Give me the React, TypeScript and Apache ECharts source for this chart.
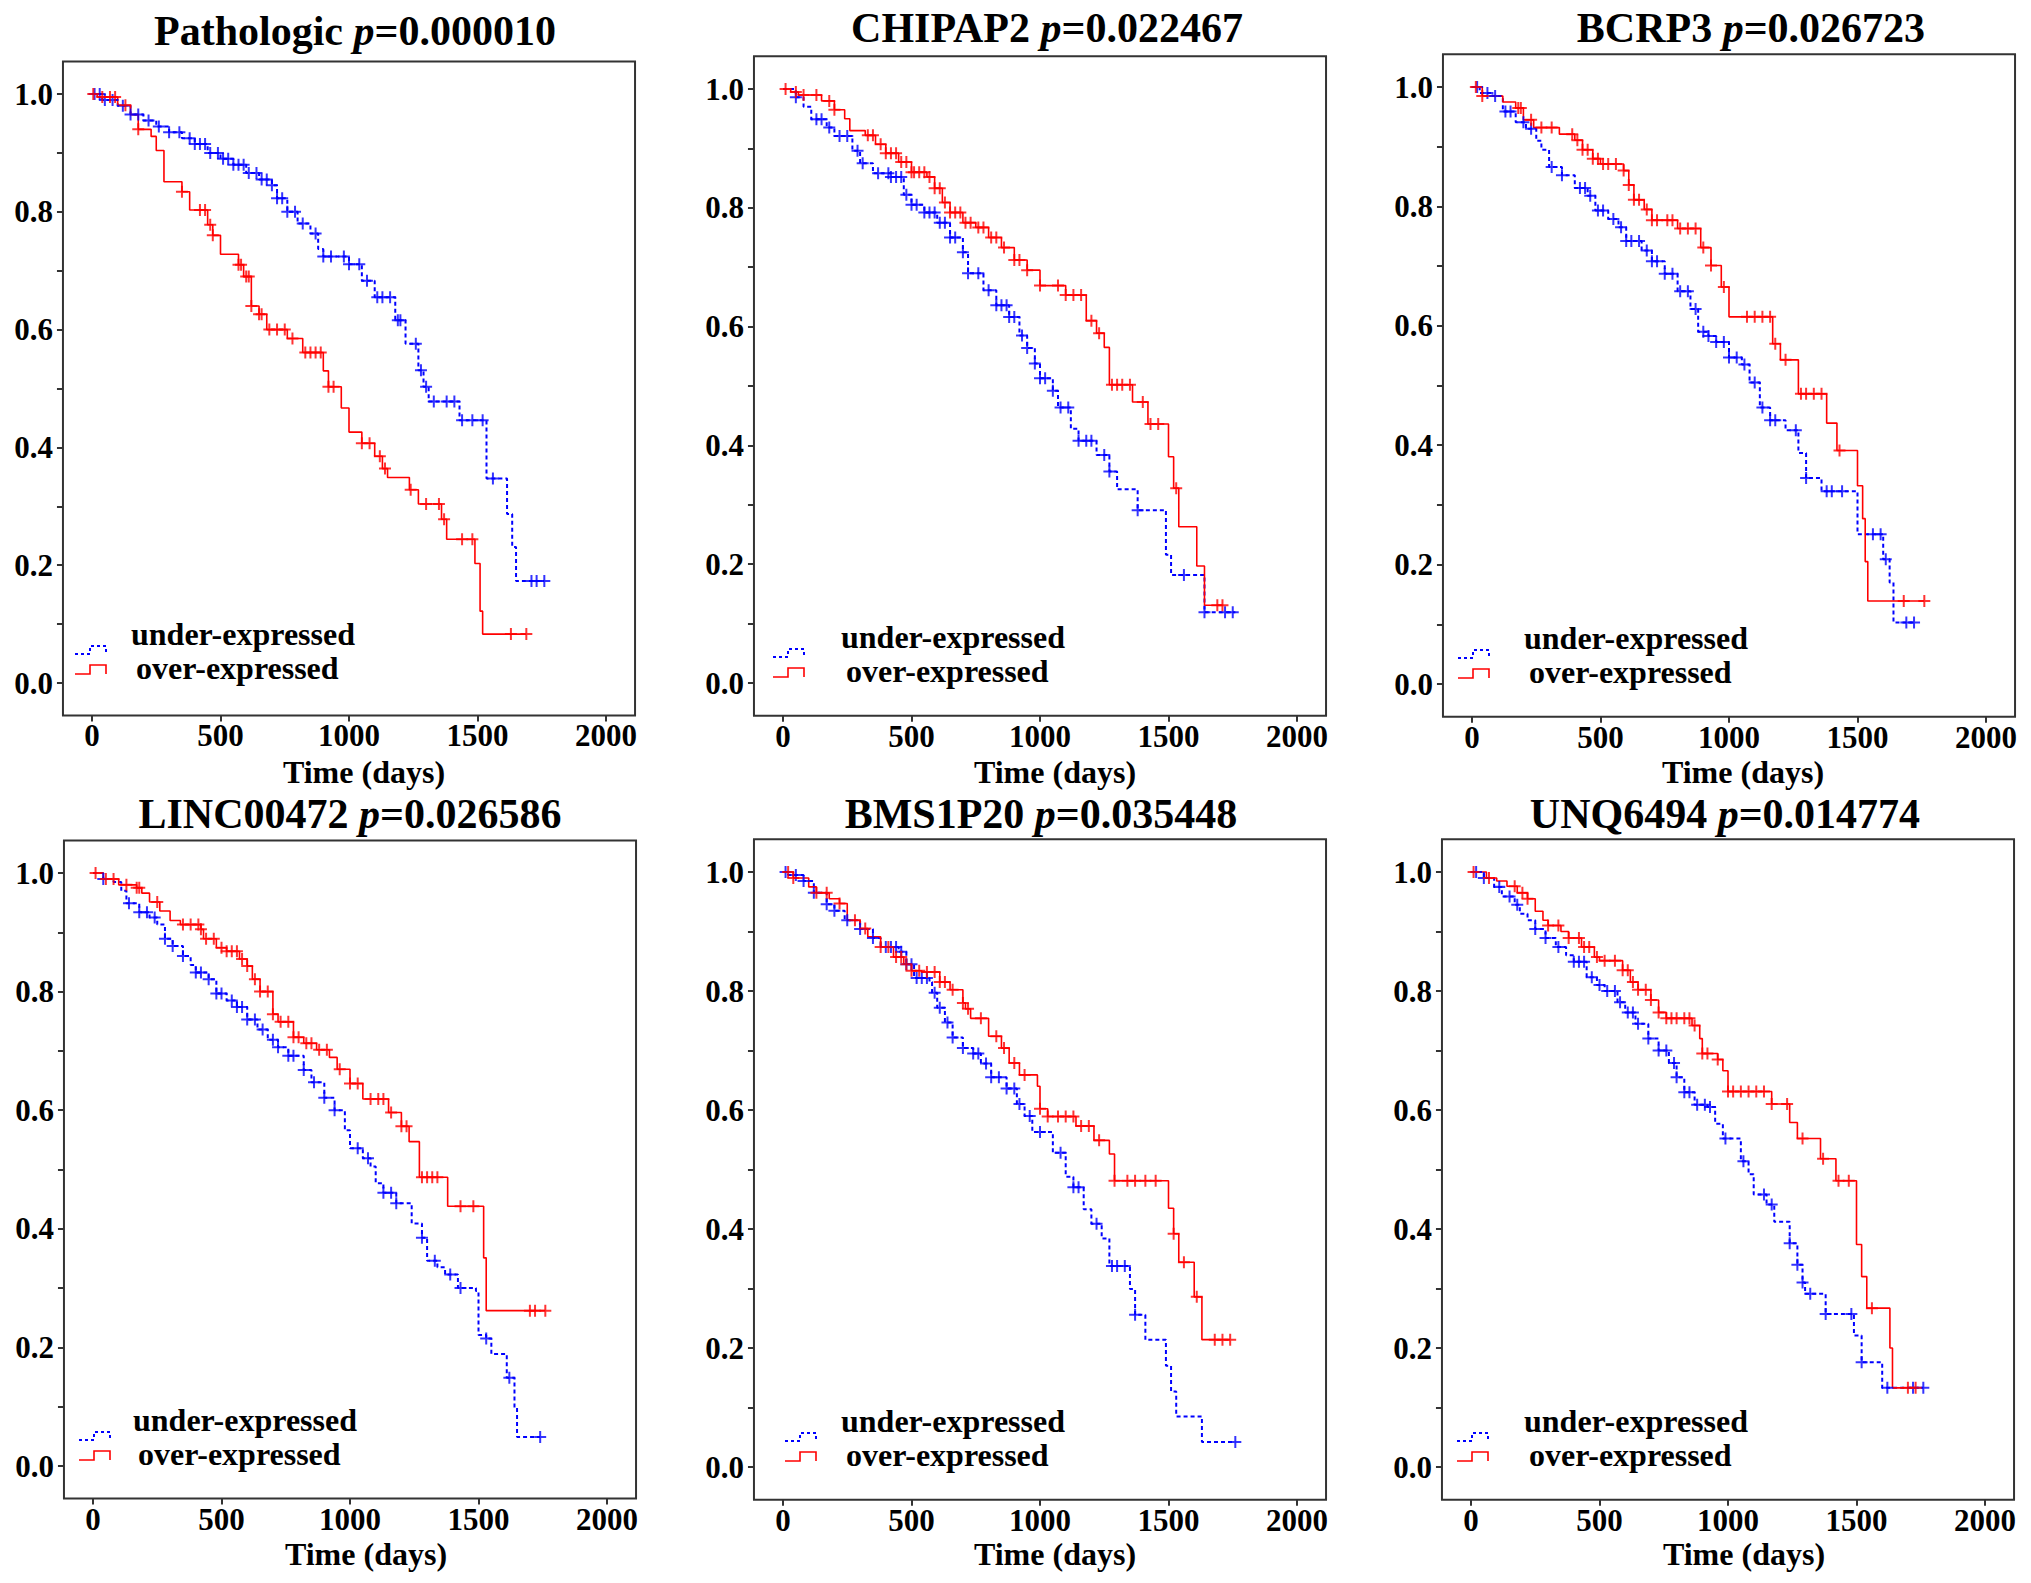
import React, { useEffect, useRef } from "react";
import * as echarts from "echarts";

const W = 2031;
const H = 1583;

// ---------------- data ----------------
const titleNames = ["Pathologic", "CHIPAP2", "BCRP3", "LINC00472", "BMS1P20", "UNQ6494"];
const pValues = ["0.000010", "0.022467", "0.026723", "0.026586", "0.035448", "0.014774"];
const legendNames = ["under-expressed", "over-expressed"];
const xTicks = [0, 500, 1000, 1500, 2000];
const yTicks = [0, 0.1, 0.2, 0.3, 0.4, 0.5, 0.6, 0.7, 0.8, 0.9, 1.0];
const yLabels = [0, 0.2, 0.4, 0.6, 0.8, 1.0];

// Kaplan-Meier step points [time, survival]
const pathUnder = [[0,1],[40,0.99],[100,0.98],[150,0.965],[200,0.955],[250,0.945],[300,0.935],[350,0.925],[400,0.915],[450,0.9],[500,0.89],[550,0.88],[600,0.866],[650,0.855],[700,0.845],[720,0.823],[760,0.8],[800,0.78],[850,0.763],[880,0.737],[900,0.724],[1000,0.711],[1050,0.683],[1100,0.655],[1180,0.616],[1220,0.576],[1270,0.531],[1290,0.503],[1310,0.478],[1430,0.446],[1535,0.347],[1615,0.287],[1635,0.231],[1650,0.173],[1760,0.173]];
const pathOver = [[0,1],[20,0.995],[100,0.981],[150,0.965],[180,0.94],[230,0.928],[250,0.904],[280,0.851],[350,0.834],[380,0.803],[450,0.778],[470,0.76],[500,0.728],[570,0.71],[590,0.69],[620,0.64],[650,0.626],[680,0.6],[760,0.585],[820,0.561],[900,0.53],[920,0.503],[970,0.467],[1000,0.426],[1050,0.407],[1100,0.385],[1130,0.364],[1150,0.349],[1235,0.328],[1270,0.304],[1360,0.278],[1380,0.244],[1490,0.203],[1510,0.122],[1520,0.083],[1690,0.083]];
const chipUnder = [[0,1],[50,0.986],[80,0.97],[110,0.949],[170,0.935],[200,0.921],[270,0.896],[300,0.875],[350,0.858],[420,0.852],[470,0.822],[500,0.805],[550,0.792],[600,0.775],[650,0.75],[700,0.725],[720,0.69],[780,0.661],[830,0.636],[880,0.616],[920,0.585],[950,0.564],[980,0.538],[1000,0.513],[1050,0.492],[1070,0.464],[1120,0.428],[1150,0.408],[1220,0.384],[1270,0.356],[1300,0.326],[1380,0.291],[1490,0.216],[1510,0.182],[1640,0.119],[1760,0.119]];
const chipOver = [[0,1],[30,0.995],[60,0.99],[150,0.98],[200,0.965],[240,0.95],[260,0.93],[320,0.922],[360,0.907],[400,0.892],[450,0.877],[500,0.86],[560,0.852],[590,0.833],[620,0.809],[650,0.792],[700,0.775],[750,0.767],[800,0.75],[850,0.733],[900,0.712],[950,0.695],[1000,0.669],[1100,0.653],[1180,0.61],[1220,0.589],[1250,0.565],[1270,0.502],[1360,0.473],[1420,0.436],[1500,0.381],[1520,0.328],[1540,0.263],[1610,0.197],[1640,0.131],[1710,0.131]];
const bcrpUnder = [[0,1],[30,0.99],[80,0.985],[120,0.959],[170,0.941],[210,0.93],[250,0.91],[270,0.895],[300,0.866],[350,0.852],[400,0.831],[450,0.818],[480,0.793],[530,0.779],[570,0.765],[600,0.742],[660,0.726],[700,0.708],[750,0.687],[800,0.658],[850,0.628],[880,0.59],[920,0.583],[950,0.573],[1000,0.547],[1050,0.535],[1080,0.505],[1120,0.463],[1160,0.442],[1220,0.425],[1270,0.387],[1300,0.345],[1360,0.323],[1500,0.251],[1600,0.209],[1625,0.17],[1640,0.103],[1720,0.103]];
const bcrpOver = [[0,1],[40,0.985],[120,0.975],[170,0.965],[200,0.945],[240,0.932],[340,0.921],[400,0.911],[430,0.895],[470,0.88],[500,0.871],[590,0.86],[610,0.836],[630,0.811],[670,0.795],[700,0.777],[800,0.763],[890,0.731],[930,0.701],[970,0.665],[1000,0.615],[1170,0.57],[1200,0.543],[1270,0.486],[1380,0.437],[1420,0.391],[1500,0.332],[1520,0.277],[1530,0.205],[1540,0.139],[1760,0.139]];
const lincUnder = [[0,1],[40,0.99],[80,0.985],[110,0.97],[130,0.949],[180,0.934],[220,0.925],[250,0.913],[280,0.889],[310,0.877],[350,0.86],[380,0.845],[400,0.832],[450,0.821],[480,0.797],[520,0.785],[560,0.774],[600,0.753],[640,0.736],[680,0.719],[720,0.706],[760,0.692],[820,0.668],[850,0.647],[900,0.621],[940,0.6],[980,0.566],[1000,0.536],[1050,0.519],[1080,0.505],[1100,0.477],[1130,0.461],[1180,0.443],[1240,0.409],[1280,0.385],[1300,0.346],[1340,0.335],[1370,0.323],[1420,0.3],[1490,0.295],[1500,0.221],[1530,0.215],[1550,0.189],[1610,0.149],[1640,0.098],[1650,0.049],[1740,0.049]];
const lincOver = [[0,1],[40,0.99],[100,0.98],[170,0.975],[190,0.966],[220,0.951],[260,0.936],[300,0.92],[340,0.913],[420,0.905],[430,0.889],[480,0.874],[520,0.868],[570,0.855],[600,0.843],[620,0.821],[650,0.8],[700,0.762],[720,0.749],[780,0.723],[820,0.713],[870,0.702],[920,0.689],[950,0.669],[1000,0.645],[1050,0.619],[1150,0.596],[1200,0.573],[1230,0.547],[1270,0.487],[1380,0.438],[1520,0.351],[1530,0.262],[1760,0.262]];
const bmsUnder = [[0,1],[20,0.995],[80,0.985],[120,0.965],[170,0.946],[200,0.935],[240,0.919],[300,0.904],[350,0.889],[380,0.874],[450,0.866],[480,0.845],[510,0.822],[570,0.815],[580,0.797],[600,0.772],[630,0.747],[660,0.722],[700,0.704],[740,0.695],[770,0.678],[810,0.655],[870,0.636],[910,0.61],[940,0.59],[970,0.563],[1050,0.528],[1100,0.488],[1130,0.47],[1170,0.433],[1200,0.409],[1240,0.384],[1270,0.338],[1350,0.299],[1370,0.256],[1410,0.214],[1490,0.17],[1510,0.127],[1530,0.085],[1630,0.042],[1760,0.042]];
const bmsOver = [[0,1],[40,0.99],[100,0.975],[130,0.965],[180,0.955],[220,0.947],[250,0.919],[300,0.905],[330,0.891],[380,0.874],[430,0.857],[470,0.845],[500,0.834],[540,0.832],[610,0.815],[650,0.802],[700,0.78],[710,0.77],[730,0.754],[800,0.724],[850,0.704],[880,0.679],[920,0.659],[990,0.64],[1000,0.602],[1030,0.589],[1140,0.573],[1210,0.549],[1270,0.526],[1290,0.481],[1500,0.435],[1520,0.392],[1540,0.344],[1600,0.286],[1630,0.214],[1740,0.214]];
const unqUnder = [[0,1],[50,0.99],[90,0.975],[120,0.959],[170,0.945],[190,0.93],[220,0.919],[250,0.904],[290,0.889],[330,0.874],[370,0.86],[400,0.849],[450,0.823],[490,0.81],[520,0.8],[570,0.781],[600,0.764],[640,0.745],[690,0.72],[730,0.7],[770,0.679],[800,0.655],[830,0.63],[870,0.609],[920,0.605],[950,0.577],[980,0.552],[1050,0.514],[1080,0.492],[1100,0.458],[1150,0.441],[1180,0.412],[1240,0.376],[1270,0.34],[1290,0.31],[1300,0.291],[1380,0.257],[1490,0.221],[1520,0.176],[1600,0.133],[1760,0.133]];
const unqOver = [[0,1],[60,0.99],[100,0.985],[140,0.976],[180,0.965],[220,0.955],[250,0.934],[280,0.919],[300,0.91],[350,0.9],[380,0.889],[430,0.874],[480,0.857],[500,0.851],[590,0.835],[620,0.815],[650,0.802],[700,0.785],[730,0.764],[760,0.754],[860,0.742],[890,0.72],[900,0.695],[960,0.685],[980,0.666],[1000,0.631],[1170,0.61],[1240,0.579],[1270,0.552],[1360,0.518],[1420,0.481],[1500,0.374],[1520,0.32],[1540,0.267],[1630,0.2],[1640,0.133],[1730,0.133]];

// censoring times
const pathUnderCens = [10,30,50,80,120,150,180,220,260,300,340,380,400,420,440,460,490,510,530,550,570,590,610,640,660,680,700,720,740,760,790,820,870,900,930,980,1000,1040,1070,1110,1130,1160,1190,1200,1260,1280,1300,1330,1380,1410,1440,1480,1520,1560,1710,1730,1760];
const pathOverCens = [5,40,70,90,130,180,350,420,440,460,470,570,580,600,610,620,650,660,690,720,750,780,830,850,870,890,920,940,1050,1080,1120,1140,1240,1300,1350,1370,1440,1480,1630,1690];
const chipUnderCens = [50,130,150,180,220,250,290,310,370,410,420,440,460,480,500,520,550,570,590,610,630,650,670,700,720,760,800,830,850,870,880,900,930,950,980,1000,1020,1050,1080,1110,1150,1180,1200,1250,1270,1380,1560,1640,1720,1750];
const chipOverCens = [10,50,80,130,180,200,330,350,380,400,420,440,460,480,500,510,530,550,570,590,610,630,650,670,690,710,730,760,780,810,830,860,900,920,950,1000,1070,1100,1130,1160,1200,1230,1280,1300,1320,1350,1400,1430,1460,1530,1690,1710];
const bcrpUnderCens = [20,60,90,130,150,200,230,310,350,420,440,460,490,510,550,580,600,620,650,680,700,720,750,780,810,840,870,900,920,950,980,1000,1030,1060,1100,1130,1160,1180,1260,1300,1380,1400,1440,1560,1590,1610,1690,1720];
const bcrpOverCens = [15,40,180,190,230,270,310,390,410,430,450,470,490,510,530,560,590,610,630,650,680,700,720,760,780,810,840,870,900,930,980,1070,1100,1130,1160,1180,1220,1280,1300,1330,1360,1430,1680,1760];
const lincUnderCens = [40,140,180,210,240,280,310,350,400,420,450,480,500,540,560,580,600,630,660,700,720,760,780,820,860,900,940,1030,1070,1130,1160,1180,1280,1330,1390,1430,1530,1620,1740];
const lincOverCens = [10,50,80,130,170,180,250,350,380,410,420,440,470,500,520,540,560,580,600,630,650,680,700,730,760,780,800,830,850,880,910,960,1000,1030,1080,1110,1130,1160,1200,1220,1280,1300,1320,1340,1430,1480,1700,1720,1760];
const bmsUnderCens = [10,50,80,120,170,200,250,300,350,400,420,440,460,480,500,520,540,560,590,610,640,660,700,740,760,790,810,840,870,900,920,960,1000,1080,1130,1150,1220,1280,1300,1330,1370,1760];
const bmsOverCens = [20,40,130,170,220,280,320,380,410,440,460,480,500,530,560,590,610,630,660,700,720,770,830,860,900,940,1000,1030,1070,1100,1130,1160,1190,1230,1290,1340,1370,1410,1450,1520,1560,1610,1680,1710,1740];
const unqUnderCens = [20,50,110,150,180,250,290,340,400,420,440,470,500,530,560,580,610,630,650,690,730,760,790,800,830,850,880,910,930,990,1060,1140,1170,1240,1270,1290,1320,1380,1480,1520,1620,1720,1760];
const unqOverCens = [10,70,170,200,220,300,340,380,420,440,460,490,520,560,590,610,630,650,680,700,730,760,780,800,830,850,870,900,920,960,1000,1020,1050,1080,1110,1140,1170,1230,1290,1370,1430,1470,1560,1700,1730];

const underCurves = [pathUnder, chipUnder, bcrpUnder, lincUnder, bmsUnder, unqUnder];
const overCurves = [pathOver, chipOver, bcrpOver, lincOver, bmsOver, unqOver];
const underCens = [pathUnderCens, chipUnderCens, bcrpUnderCens, lincUnderCens, bmsUnderCens, unqUnderCens];
const overCens = [pathOverCens, chipOverCens, bcrpOverCens, lincOverCens, bmsOverCens, unqOverCens];

// ---------------- layout (pixels) ----------------
const X_MIN = -113;
const X_MAX = 2113;
const Y_MIN = -0.055;
const Y_MAX = 1.055;
const PX_PER_DAY = 0.257;

const layout = [
  { x0: 92, y1: 94, y0: 683, tx: 355, ty: 31, ax: 364, ay: 772, symL: 75, textL: 131, ldy: -3 },
  { x0: 783, y1: 89, y0: 683, tx: 1047, ty: 28, ax: 1055, ay: 772, symL: 773, textL: 841, ldy: 0 },
  { x0: 1472, y1: 87, y0: 684, tx: 1751, ty: 28, ax: 1743, ay: 772, symL: 1458, textL: 1524, ldy: 0 },
  { x0: 93, y1: 873, y0: 1466, tx: 350, ty: 814, ax: 366, ay: 1554, symL: 79, textL: 133, ldy: 0 },
  { x0: 783, y1: 872, y0: 1467, tx: 1041, ty: 814, ax: 1055, ay: 1554, symL: 785, textL: 841, ldy: 0 },
  { x0: 1471, y1: 872, y0: 1467, tx: 1725, ty: 814, ax: 1744, ay: 1554, symL: 1457, textL: 1524, ldy: 0 },
];

const BLUE = "#0000ff";
const RED = "#ff0000";
const AXIS = "#333333";
const FONT = "'Liberation Serif', 'Times New Roman', serif";
const CROSS = "path://M5,0H7V5H12V7H7V12H5V7H0V5H5Z";

function survAt(curve: number[][], t: number) {
  let s = curve[0][1];
  for (const p of curve) {
    if (p[0] <= t) s = p[1];
    else break;
  }
  return s;
}

function buildOption() {
  const grid: any[] = [];
  const xAxis: any[] = [];
  const yAxis: any[] = [];
  const series: any[] = [];
  const graphic: any[] = [];

  layout.forEach((L, i) => {
    const yUnit = L.y0 - L.y1;
    const left = L.x0 + X_MIN * PX_PER_DAY;
    const width = (X_MAX - X_MIN) * PX_PER_DAY;
    const top = L.y1 - (Y_MAX - 1) * yUnit;
    const height = (Y_MAX - Y_MIN) * yUnit;
    grid.push({
      left, top, width, height,
      show: true, borderColor: AXIS, borderWidth: 2, backgroundColor: "#fff",
      containLabel: false,
    });
    xAxis.push({
      type: "value", gridIndex: i, min: X_MIN, max: X_MAX, position: "bottom",
      axisLine: { show: false, onZero: false },
      splitLine: { show: false },
      axisTick: { show: true, length: 6, inside: false, customValues: xTicks, lineStyle: { color: AXIS, width: 2 } },
      axisLabel: {
        show: true, customValues: xTicks, margin: 5, color: "#000",
        fontFamily: FONT, fontWeight: "bold", fontSize: 31,
        formatter: (v: number) => String(v),
      },
    });
    yAxis.push({
      type: "value", gridIndex: i, min: Y_MIN, max: Y_MAX, position: "left",
      axisLine: { show: false, onZero: false },
      splitLine: { show: false },
      axisTick: { show: true, length: 6, inside: false, customValues: yTicks, lineStyle: { color: AXIS, width: 2 } },
      axisLabel: {
        show: true, customValues: yLabels, margin: 10, color: "#000",
        fontFamily: FONT, fontWeight: "bold", fontSize: 31,
        formatter: (v: number) => v.toFixed(1),
      },
    });

    series.push({
      type: "line", name: legendNames[0], xAxisIndex: i, yAxisIndex: i,
      data: underCurves[i], step: "end", showSymbol: false, silent: true,
      lineStyle: { color: BLUE, width: 2, type: [4, 3] }, z: 2,
    });
    series.push({
      type: "line", name: legendNames[1], xAxisIndex: i, yAxisIndex: i,
      data: overCurves[i], step: "end", showSymbol: false, silent: true,
      lineStyle: { color: RED, width: 1.6, type: "solid" }, z: 3,
    });
    series.push({
      type: "scatter", xAxisIndex: i, yAxisIndex: i, silent: true,
      data: underCens[i].map((t) => [t, survAt(underCurves[i], t)]),
      symbol: CROSS, symbolSize: 12, itemStyle: { color: BLUE }, z: 4,
    });
    series.push({
      type: "scatter", xAxisIndex: i, yAxisIndex: i, silent: true,
      data: overCens[i].map((t) => [t, survAt(overCurves[i], t)]),
      symbol: CROSS, symbolSize: 12, itemStyle: { color: RED }, z: 5,
    });

    // title
    graphic.push({
      type: "text", z: 10,
      style: {
        x: L.tx, y: L.ty, align: "center", verticalAlign: "middle",
        text: `{a|${titleNames[i]} }{b|p}{a|=${pValues[i]}}`,
        rich: {
          a: { fontFamily: FONT, fontWeight: "bold", fontSize: 42, fill: "#000" },
          b: { fontFamily: FONT, fontWeight: "bold", fontStyle: "italic", fontSize: 42, fill: "#000" },
        },
      },
    });
    // x axis title
    graphic.push({
      type: "text", z: 10,
      style: {
        x: L.ax, y: L.ay, align: "center", verticalAlign: "middle",
        text: "Time (days)", fontFamily: FONT, fontWeight: "bold", fontSize: 32, fill: "#000",
      },
    });
    // legend
    const y0 = L.y0 + L.ldy;
    const sL = L.symL;
    graphic.push({
      type: "polyline", z: 10,
      shape: { points: [[sL, y0 - 26], [sL + 15, y0 - 26], [sL + 15, y0 - 34], [sL + 31, y0 - 34], [sL + 31, y0 - 26]] },
      style: { stroke: BLUE, lineWidth: 2, lineDash: [3, 3], fill: null },
    });
    graphic.push({
      type: "polyline", z: 10,
      shape: { points: [[sL, y0 - 6], [sL + 15, y0 - 6], [sL + 15, y0 - 15], [sL + 31, y0 - 15], [sL + 31, y0 - 6]] },
      style: { stroke: RED, lineWidth: 1.6, fill: null },
    });
    graphic.push({
      type: "text", z: 10,
      style: {
        x: L.textL, y: y0 - 46, align: "left", verticalAlign: "middle",
        text: legendNames[0], fontFamily: FONT, fontWeight: "bold", fontSize: 32, fill: "#000",
      },
    });
    graphic.push({
      type: "text", z: 10,
      style: {
        x: L.textL + 5, y: y0 - 12, align: "left", verticalAlign: "middle",
        text: legendNames[1], fontFamily: FONT, fontWeight: "bold", fontSize: 32, fill: "#000",
      },
    });
  });

  return {
    animation: false,
    backgroundColor: "#ffffff",
    grid, xAxis, yAxis, series, graphic,
  };
}

export default function App() {
  const ref = useRef<HTMLDivElement>(null);
  useEffect(() => {
    if (!ref.current) return;
    const chart = echarts.init(ref.current, null, { renderer: "svg", width: W, height: H });
    chart.setOption(buildOption() as any);
    return () => chart.dispose();
  }, []);
  return (
    <div
      ref={ref}
      style={{ position: "absolute", left: 0, top: 0, width: W, height: H, background: "#fff" }}
    />
  );
}
